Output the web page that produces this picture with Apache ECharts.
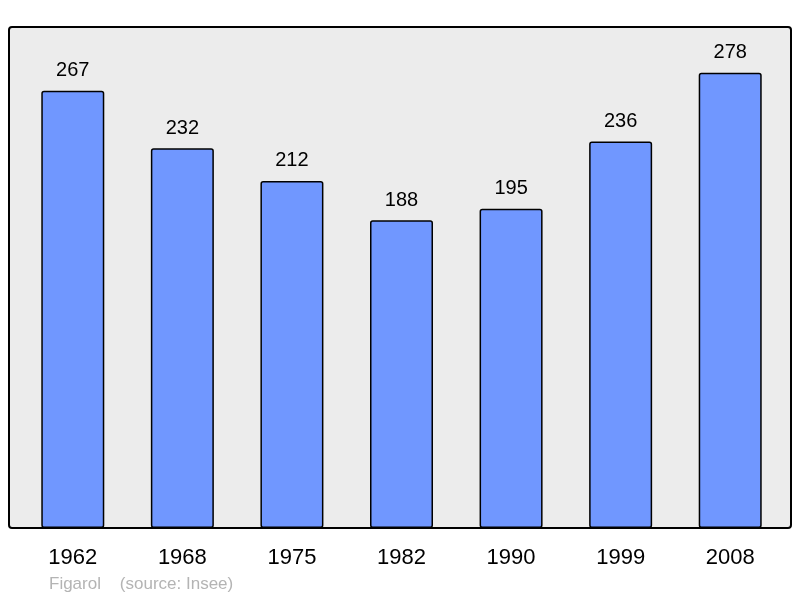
<!DOCTYPE html>
<html>
<head>
<meta charset="utf-8">
<script src="https://cdn.jsdelivr.net/npm/echarts@6/dist/echarts.min.js"></script>
<style>
  html, body { margin: 0; padding: 0; background: #fff; }
  #main { width: 800px; height: 598px; }
</style>
</head>
<body>
<div id="main"></div>
<script>
var years = ['1962', '1968', '1975', '1982', '1990', '1999', '2008'];
var population = [267, 232, 212, 188, 195, 236, 278];

var myChart = echarts.init(document.getElementById('main'));

var option = {
    animation: false,
    graphic: [
        {
            type: 'rect',
            z: -10,
            shape: { x: 9, y: 27, width: 782, height: 501, r: 3 },
            style: { fill: '#ececec', stroke: '#000', lineWidth: 2 }
        },
        {
            type: 'text',
            left: 49,
            top: 576,
            style: {
                text: 'Figarol    (source: Insee)',
                fill: '#b4b4b4',
                font: '17px "Liberation Sans", Arial, sans-serif'
            }
        }
    ],
    grid: { left: 18, right: 15, top: 27, bottom: 70 },
    xAxis: {
        type: 'category',
        data: years,
        axisLine: { show: false },
        axisTick: { show: false },
        axisLabel: {
            color: '#000',
            fontSize: 22,
            margin: 19,
            fontFamily: 'Liberation Sans'
        }
    },
    yAxis: {
        type: 'value',
        min: 0,
        max: 306,
        show: false,
        splitLine: { show: false }
    },
    series: [
        {
            type: 'bar',
            data: population,
            barWidth: 63,
            itemStyle: {
                color: '#7097ff',
                borderColor: '#000',
                borderWidth: 1.5,
                borderRadius: 2
            },
            label: {
                show: true,
                position: 'top',
                distance: 10,
                color: '#000',
                fontSize: 20,
                fontFamily: 'Liberation Sans'
            }
        }
    ]
};

myChart.setOption(option);
</script>
</body>
</html>
